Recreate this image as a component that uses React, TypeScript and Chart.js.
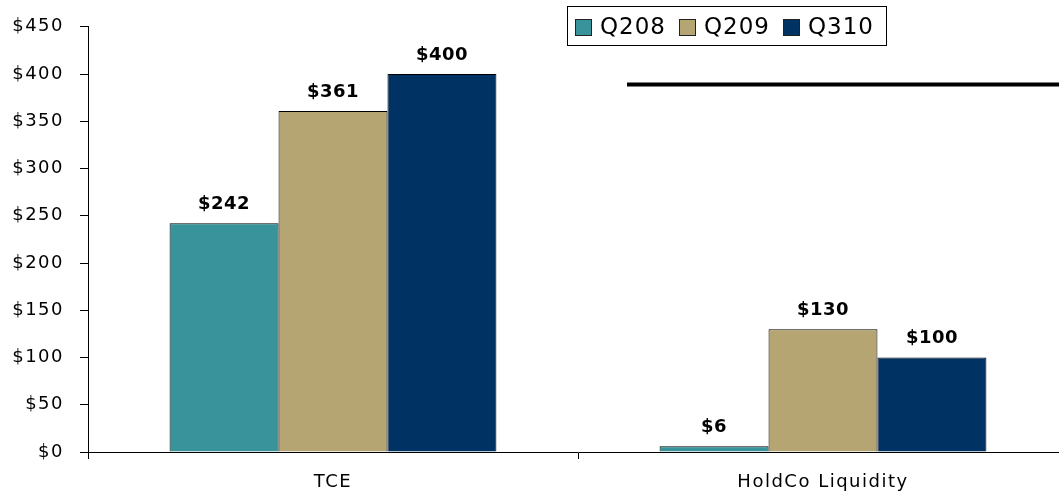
import React, { useEffect, useRef } from "react";
import { Chart, registerables } from "chart.js";

Chart.register(...registerables);

const categories = ["TCE", "HoldCo Liquidity"];
const seriesNames = ["Q208", "Q209", "Q310"];
const q208Values = [242, 6];
const q209Values = [361, 130];
const q310Values = [400, 100];
const seriesColors = ["#38939A", "#B5A572", "#003264"];
const yMax = 450;
const yStep = 50;
const separatorValue = 389;

const FONT = "'DejaVu Sans', sans-serif";

const valueLabelPlugin = {
  id: "valueLabels",
  afterDatasetsDraw(chart: any) {
    const ctx = chart.ctx;
    ctx.save();
    (ctx as any).letterSpacing = "0.5px";
    ctx.font = `bold 18px ${FONT}`;
    ctx.fillStyle = "#000";
    ctx.textAlign = "center";
    ctx.textBaseline = "bottom";
    chart.data.datasets.forEach((ds: any, i: number) => {
      const meta = chart.getDatasetMeta(i);
      meta.data.forEach((bar: any, j: number) => {
        ctx.fillText("$" + ds.data[j], bar.x, bar.y - 10);
      });
    });
    ctx.restore();
  },
};

const decorPlugin = {
  id: "decor",
  beforeDraw(chart: any) {
    (chart.ctx as any).letterSpacing = "1.5px";
  },
  afterDraw(chart: any) {
    const ctx = chart.ctx;
    const xs = chart.scales.x;
    const ys = chart.scales.y;
    ctx.save();
    // separator line
    ctx.strokeStyle = "#000";
    ctx.lineWidth = 4;
    ctx.beginPath();
    const ly = ys.getPixelForValue(separatorValue);
    ctx.moveTo(xs.getPixelForValue(0.6), ly);
    ctx.lineTo(chart.chartArea.right, ly);
    ctx.stroke();

    // legend box
    ctx.lineWidth = 1;
    ctx.fillStyle = "#fff";
    ctx.fillRect(567.5, 6.5, 319, 39);
    ctx.strokeStyle = "#000";
    ctx.strokeRect(567.5, 6.5, 319, 39);
    const itemX = [575, 679, 783];
    (ctx as any).letterSpacing = "1px";
    ctx.font = `23px ${FONT}`;
    ctx.textBaseline = "middle";
    ctx.textAlign = "left";
    seriesNames.forEach((name, i) => {
      ctx.fillStyle = seriesColors[i];
      ctx.fillRect(itemX[i] + 0.5, 19.5, 16, 16);
      ctx.strokeStyle = "#222";
      ctx.strokeRect(itemX[i] + 0.5, 19.5, 16, 16);
      ctx.fillStyle = "#000";
      ctx.fillText(name, itemX[i] + 25, 28);
    });
    ctx.restore();
  },
};

export default function App() {
  const ref = useRef<HTMLCanvasElement>(null);
  useEffect(() => {
    if (!ref.current) return;
    const values = [q208Values, q209Values, q310Values];
    const chart = new Chart(ref.current, {
      type: "bar",
      data: {
        labels: categories,
        datasets: seriesNames.map((name, i) => ({
          label: name,
          data: values[i],
          backgroundColor: seriesColors[i],
          borderColor: "#000",
          borderWidth: 1,
          categoryPercentage: 0.667,
          barPercentage: 1,
        })),
      },
      options: {
        responsive: false,
        maintainAspectRatio: false,
        devicePixelRatio: 1,
        animation: false,
        layout: { padding: { top: 24, right: 4, left: 0, bottom: 0 } },
        plugins: {
          legend: { display: false },
          tooltip: { enabled: false },
        },
        scales: {
          x: {
            offset: true,
            grid: {
              drawOnChartArea: false,
              drawTicks: true,
              tickLength: 7,
              color: "#000",
              offset: true,
            },
            border: { color: "#000", width: 1 },
            ticks: {
              color: "#000",
              font: { family: FONT, size: 18 },
              padding: 13,
              maxRotation: 0,
            },
            afterFit: (s: any) => {
              s.height = 44;
            },
          },
          y: {
            min: 0,
            max: yMax,
            grid: {
              drawOnChartArea: false,
              drawTicks: true,
              tickLength: 8,
              color: "#000",
            },
            border: { color: "#000", width: 1 },
            ticks: {
              stepSize: yStep,
              color: "#000",
              font: { family: FONT, size: 18 },
              padding: 16,
              callback: (v: any) => "$" + v,
            },
            afterFit: (s: any) => {
              s.width = 88;
            },
          },
        },
      },
      plugins: [valueLabelPlugin, decorPlugin],
    } as any);
    return () => chart.destroy();
  }, []);
  return (
    <div
      style={{
        position: "absolute",
        left: 0,
        top: 0,
        width: 1059,
        height: 496,
        overflow: "hidden",
        background: "#fff",
      }}
    >
      <canvas ref={ref} width={1072} height={496} style={{ display: "block" }} />
    </div>
  );
}
